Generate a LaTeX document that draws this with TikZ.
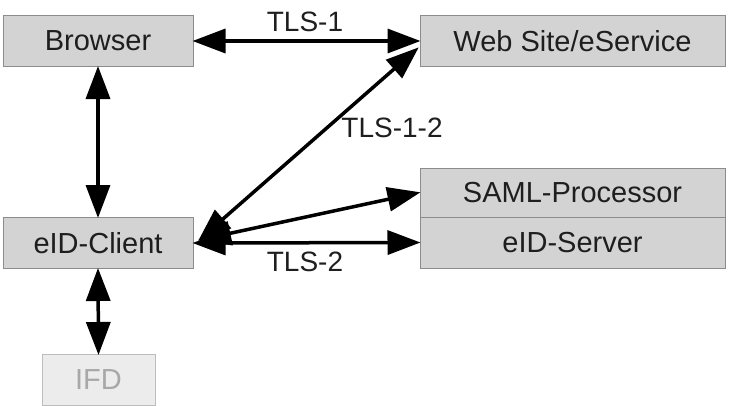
\documentclass[tikz,border=0pt]{standalone}
\usepackage{fontspec}
\setmainfont{Liberation Sans}
\usetikzlibrary{arrows.meta}
\definecolor{boxfill}{HTML}{D3D3D3}
\definecolor{boxline}{HTML}{8C8C8C}
\definecolor{ifdfill}{HTML}{ECECEC}
\definecolor{ifdline}{HTML}{BDBDBD}
\definecolor{ifdtext}{HTML}{A8A8A8}
\definecolor{txt}{HTML}{1E1E1E}
\begin{document}
\begin{tikzpicture}[x=1pt,y=-1pt,
  box/.style={draw=boxline,fill=boxfill,line width=1pt,minimum height=51pt,inner sep=0pt,font=\fontsize{29}{32}\selectfont,text=txt},
  ifdbox/.style={draw=ifdline,fill=ifdfill,line width=1pt,minimum width=113pt,minimum height=51pt,inner sep=0pt,font=\fontsize{29}{32}\selectfont,text=ifdtext},
  lab/.style={font=\fontsize{28}{32}\selectfont,text=txt,inner sep=0pt},
  conn/.style={line width=3.5pt,{Triangle[length=33pt,width=24pt]}-{Triangle[length=33pt,width=24pt]},shorten <=-1pt,shorten >=-1pt}]
\useasboundingbox (0,0) rectangle (731,405);
\fill[white] (0,0) rectangle (731,405);
\node[box,minimum width=190pt] (browser) at (98,41) {Browser};
\node[box,minimum width=305pt] (web) at (572.5,41) {Web Site/eService};
\node[box,minimum width=305pt,minimum height=49pt] (saml) at (572.5,192.5) {SAML-Processor};
\node[box,minimum width=305pt,minimum height=51pt] (eids) at (572.5,242.5) {eID-Server};
\node[box,minimum width=190pt] (client) at (98,243) {eID-Client};
\node[ifdbox] (ifd) at (98.5,380) {IFD};
\coordinate (webtip) at (418,48);
\coordinate (cl) at (199,240);
\draw[conn] (browser.east) -- (web.west);
\draw[conn] (browser.south) -- (client.north);
\draw[conn] (cl) -- (webtip);
\draw[conn] (cl) -- (saml.west);
\draw[conn] (client.east) -- (eids.west);
\draw[conn] (client.south) -- (ifd.north);
\node[lab] (t1) at (305,22) {TLS-1};
\node[lab] (t12) at (392,128) {TLS-1-2};
\node[lab] (t2) at (305,262) {TLS-2};
\end{tikzpicture}
\end{document}
